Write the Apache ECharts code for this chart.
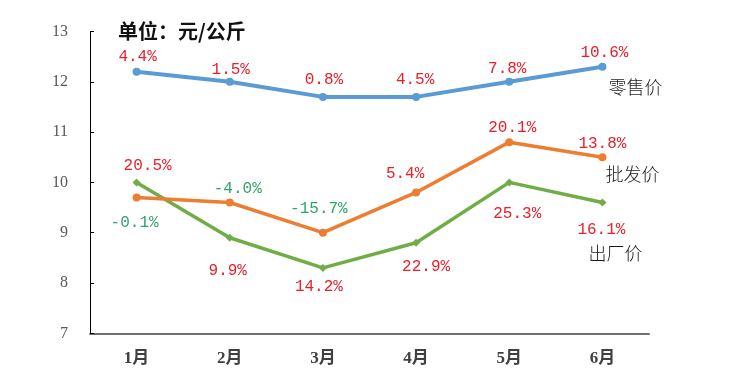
<!DOCTYPE html>
<html><head><meta charset="utf-8">
<script src="https://cdn.jsdelivr.net/npm/echarts@6/dist/echarts.min.js"></script>
<style>html,body{margin:0;padding:0;background:#fff}#c{width:750px;height:391px}</style>
</head><body><div id="c"></div>
<script>
const categories = ['1月','2月','3月','4月','5月','6月'];
const yTicks = [7, 8, 9, 10, 11, 12, 13];
const retail = [12.2, 12.0, 11.7, 11.7, 12.0, 12.3];
const wholesale = [9.7, 9.6, 9.0, 9.8, 10.8, 10.5];
const factory = [10.0, 8.9, 8.3, 8.8, 10.0, 9.6];
const retailYoY = ['4.4%', '1.5%', '0.8%', '4.5%', '7.8%', '10.6%'];
const wholesaleYoY = ['20.5%', '-4.0%', '-15.7%', '5.4%', '20.1%', '13.8%'];
const factoryYoY = ['-0.1%', '9.9%', '14.2%', '22.9%', '25.3%', '16.1%'];
const seriesNames = ['零售价', '批发价', '出厂价'];
const unitTitle = '单位：元/公斤';

// label placement (styling)
const retailOff = [[1,-15],[1,-12],[1,-17],[-1,-17],[-2,-13],[2,-14]];
const wholesaleOff = [[11,-32],[8,-14],[-4,-24],[-11,-19],[3,-14],[0,-13]];
const factoryOff = [[-2,40],[-2,33],[-4,19],[10,24],[8,31],[-1,27]];
const nameOff = [[33,20],[30,17],[13,51]];

const RED = '#e8202c', GREEN = '#2fa468';
const pctFont = '"Liberation Mono", "DejaVu Sans Mono", monospace';
function items(vals, labs, offs) {
  return vals.map((v, i) => ({
    value: v,
    label: {
      show: true, position: 'inside', offset: offs[i],
      formatter: labs[i],
      color: labs[i].startsWith('-') ? GREEN : RED,
      fontFamily: pctFont, fontSize: 16
    }
  }));
}
function endMark(vals, name, off) {
  const last = vals.length - 1;
  return {
    symbol: 'circle', symbolSize: 0, silent: true,
    data: [{ coord: [categories[last], vals[last]], value: name }],
    label: { show: true, position: 'inside', offset: off, formatter: name,
      color: '#1a1a1a', fontSize: 18, fontFamily: '"Noto Sans CJK SC", sans-serif', fontWeight: 300 }
  };
}

const chart = echarts.init(document.getElementById('c'), null, {renderer: 'canvas'});
chart.setOption({
  animation: false,
  backgroundColor: '#fff',
  title: { text: unitTitle, left: 113, top: 16,
    textStyle: { fontSize: 20, fontWeight: 'bold', color: '#111', fontFamily: '"Noto Sans CJK SC", sans-serif' } },
  grid: { left: 90, right: 101, top: 31.5, bottom: 57.7, containLabel: false },
  xAxis: {
    type: 'category', data: categories, boundaryGap: true,
    axisLine: { lineStyle: { color: '#6f6f6f', width: 2 } },
    axisTick: { inside: true, length: 5, lineStyle: { color: '#6f6f6f', width: 1.5 } },
    axisLabel: { margin: 17, fontSize: 17, fontWeight: 'bold', color: '#404040',
      fontFamily: '"Liberation Serif", "Noto Sans CJK SC", serif' }
  },
  yAxis: {
    type: 'value', min: yTicks[0], max: yTicks[yTicks.length - 1], interval: 1,
    axisLine: { show: true, lineStyle: { color: '#000', width: 1 } },
    axisTick: { show: true, inside: true, length: 4, lineStyle: { color: '#000' } },
    splitLine: { show: false },
    axisLabel: { margin: 22, fontSize: 16, color: '#595959', fontFamily: '"Liberation Serif", serif' }
  },
  series: [
    { name: seriesNames[0], type: 'line', data: items(retail, retailYoY, retailOff),
      symbol: 'circle', symbolSize: 8, lineStyle: { color: '#5b9bd5', width: 4 },
      itemStyle: { color: '#5b9bd5' }, markPoint: endMark(retail, seriesNames[0], nameOff[0]), z: 3 },
    { name: seriesNames[1], type: 'line', data: items(wholesale, wholesaleYoY, wholesaleOff),
      symbol: 'circle', symbolSize: 8, lineStyle: { color: '#ed7d31', width: 3.5 },
      itemStyle: { color: '#ed7d31' }, markPoint: endMark(wholesale, seriesNames[1], nameOff[1]), z: 3 },
    { name: seriesNames[2], type: 'line', data: items(factory, factoryYoY, factoryOff),
      symbol: 'diamond', symbolSize: 8, lineStyle: { color: '#70ad47', width: 3.5 },
      itemStyle: { color: '#70ad47' }, markPoint: endMark(factory, seriesNames[2], nameOff[2]), z: 2 }
  ]
});
</script></body></html>
